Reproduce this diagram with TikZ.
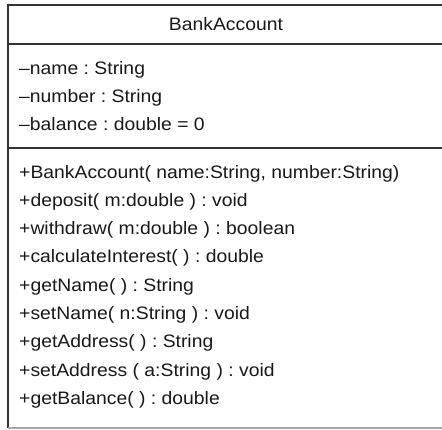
\documentclass[tikz,border=0pt]{standalone}
\usepackage{fontspec}
\setmainfont[FakeStretch=1.075]{Liberation Sans}
\frenchspacing
\begin{document}
\begin{tikzpicture}[x=1bp,y=-1bp,
  member/.style={anchor=base west,inner sep=0pt,font=\fontsize{18bp}{20bp}\selectfont,text=black!90},
  frame/.style={draw=black!80,line width=2bp}]
\useasboundingbox (0,0) rectangle (442,429);
\fill[white] (0,0) rectangle (442,429);
% class box
\draw[frame] (446,5) -- (7.5,5) -- (7.5,428);
\draw[draw=black!35,line width=1.4bp] (7.5,428) -- (446,428);
\draw[frame] (7.5,44) -- (446,44);
\draw[frame] (7.5,148) -- (446,148);
% title
\node[member,anchor=base] (title) at (226,30.5) {BankAccount};
% attributes
\node[member] (a1) at (19,74.5) {--name : String};
\node[member] (a2) at (19,102.5) {--number : String};
\node[member] (a3) at (19,130.5) {--balance : double = 0};
% operations
\node[member] (m1) at (19,178) {+BankAccount( name:String, number:String)};
\node[member] (m2) at (19,206) {+deposit( m:double ) : void};
\node[member] (m3) at (19,234.5) {+withdraw( m:double ) : boolean};
\node[member] (m4) at (19,262.5) {+calculateInterest( ) : double};
\node[member] (m5) at (19,291) {+getName( ) : String};
\node[member] (m6) at (19,319) {+setName( n:String ) : void};
\node[member] (m7) at (19,347.5) {+getAddress( ) : String};
\node[member] (m8) at (19,376) {+setAddress ( a:String ) : void};
\node[member] (m9) at (19,404) {+getBalance( ) : double};
\end{tikzpicture}
\end{document}
